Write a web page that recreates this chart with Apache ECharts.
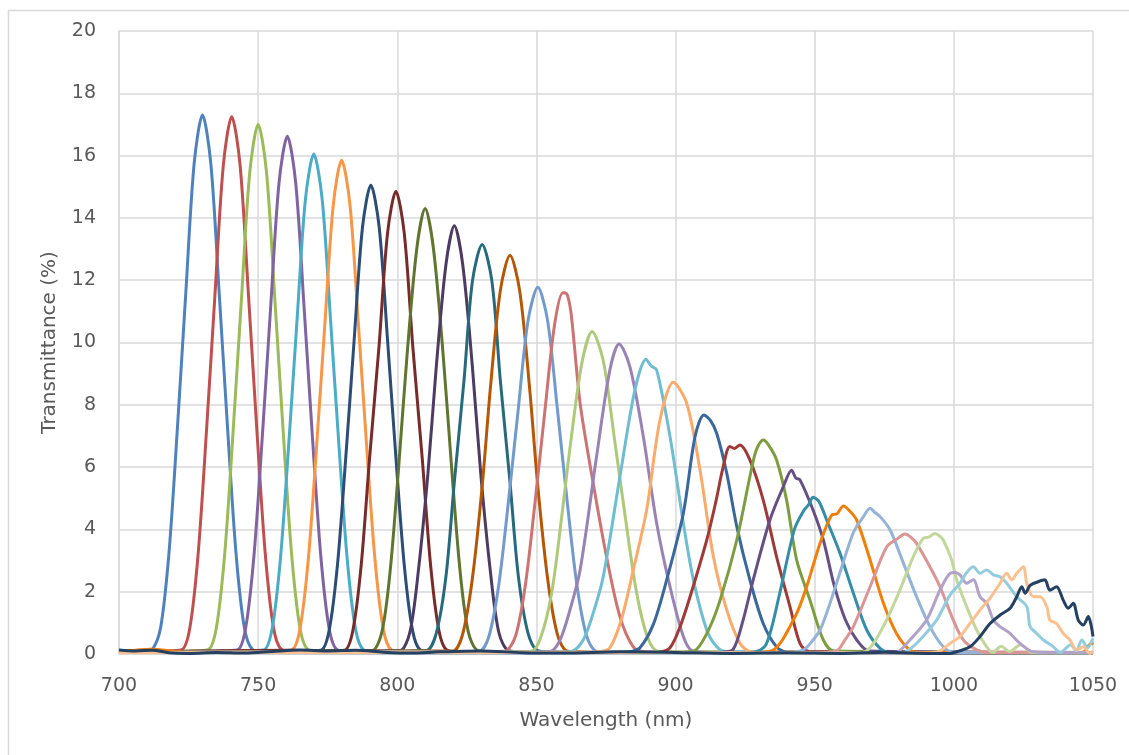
<!DOCTYPE html>
<html><head><meta charset="utf-8">
<script src="https://cdn.jsdelivr.net/npm/echarts@6/dist/echarts.min.js"></script>
<style>html,body{margin:0;padding:0;background:#fff}#c{width:1129px;height:755px}</style>
</head><body><div id="c"></div>
<script>
const xTitle = 'Wavelength (nm)';
const yTitle = 'Transmittance (%)';
const xRange = [700, 1050, 50];
const yRange = [0, 20, 2];

const colors = ['#4F81BD','#C0504D','#9BBB59','#8064A2','#4BACC6','#F79646',
  '#2C4D75','#772C2A','#5F7530','#4D3B62','#276A7C','#B65708',
  '#729ACA','#CD7371','#AFC97A','#9983B5','#6FBDD1','#F9AB6B',
  '#3A679C','#9E3B38','#7E9D40','#664F83','#358EA6','#F07F09',
  '#95B3D7','#D99694','#C3D69B','#B3A2C7','#93CDDD','#FAC090','#244062'];

const t730 = [[700,0.12],[705,0.08],[710,0.1],[712,0.14],[715,0.87],[718,3.29],[721,7.27],[724,11.59],[727,15.74],[730,17.3],[733,15.74],[736,11.59],[739,7.27],[742,3.29],[745,0.87],[748,0.14],[752,0.08],[780,0.05],[850,0.04],[950,0.05],[1050,0.04]];
const t740 = [[700,0.06],[715,0.1],[722.5,0.14],[725.5,0.86],[728.5,3.28],[731.5,7.25],[734.5,11.56],[737.5,15.7],[740.5,17.25],[743.5,15.7],[746.5,11.56],[749.5,7.25],[752.5,3.28],[755.5,0.86],[758.5,0.14],[765,0.06],[850,0.05],[1050,0.04]];
const t750 = [[700,0.05],[725,0.1],[732,0.14],[735,0.85],[738,3.23],[741,7.14],[744,11.39],[747,15.47],[750,17.0],[753,15.47],[756,11.39],[759,7.14],[762,3.23],[765,0.85],[768,0.14],[775,0.06],[1050,0.04]];
const t760 = [[700,0.05],[735,0.1],[742.5,0.13],[745.5,0.83],[748.5,3.16],[751.5,6.98],[754.5,11.14],[757.5,15.12],[760.5,16.62],[763.5,15.12],[766.5,11.14],[769.5,6.98],[772.5,3.16],[775.5,0.83],[778.5,0.13],[785,0.06],[1050,0.04]];
const t770 = [[700,0.05],[744,0.1],[752,0.13],[755,0.8],[758,3.05],[761,6.74],[764,10.75],[767,14.6],[770,16.05],[773,14.6],[776,10.75],[779,6.74],[782,3.05],[785,0.8],[788,0.13],[795,0.06],[1050,0.04]];
const t780 = [[700,0.06],[712,0.15],[720,0.05],[755,0.1],[762,0.13],[765,0.79],[768,3.01],[771,6.66],[774,10.62],[777,14.42],[780,15.85],[783,14.42],[786,10.62],[789,6.66],[792,3.01],[795,0.79],[798,0.13],[805,0.06],[1050,0.04]];
const t790 = [[700,0.05],[765,0.1],[772.5,0.12],[775.5,0.75],[778.5,2.86],[781.5,6.32],[784.5,10.08],[787.5,13.7],[790.5,15.05],[793.5,13.7],[796.5,10.08],[799.5,6.32],[802.5,2.86],[805.5,0.75],[808.5,0.12],[815,0.06],[1050,0.04]];
const t800 = [[700,0.05],[760,0.12],[775,0.1],[781,0.12],[784,0.74],[787,2.82],[790,6.24],[793.5,9.95],[796.5,13.51],[799.5,14.85],[802.5,13.51],[805.5,9.95],[809,6.24],[812,2.82],[815,0.74],[818,0.12],[825,0.06],[1050,0.04]];
const t810 = [[700,0.05],[785,0.1],[791,0.11],[794.5,0.72],[797.5,2.72],[800.5,6.01],[803.5,9.58],[807,13.01],[810,14.3],[813,13.01],[816.5,9.58],[819.5,6.01],[822.5,2.72],[825.5,0.72],[829,0.11],[836,0.06],[1050,0.04]];
const t820 = [[700,0.05],[795,0.1],[801,0.11],[804.5,0.69],[807.5,2.61],[811,5.78],[814,9.21],[817.5,12.51],[820.5,13.75],[823.5,12.51],[827,9.21],[830,5.78],[833.5,2.61],[836.5,0.69],[840,0.11],[847,0.06],[1050,0.04]];
const t830 = [[700,0.05],[804,0.1],[810.5,0.11],[814,0.66],[817.5,2.5],[820.5,5.52],[824,8.81],[827,11.97],[830.5,13.15],[834,11.97],[837,8.81],[840.5,5.52],[843.5,2.5],[847,0.66],[850.5,0.11],[858,0.06],[1050,0.04]];
const t840 = [[700,0.05],[813,0.1],[820,0.1],[823.5,0.64],[827,2.43],[830.5,5.38],[833.5,8.58],[837,11.65],[840.5,12.8],[844,11.65],[847.5,8.58],[850.5,5.38],[854,2.43],[857.5,0.64],[861,0.1],[868,0.06],[1050,0.04]];
const t850 = [[700,0.05],[822,0.08],[829.5,0.09],[833,0.59],[836.5,2.24],[840,4.94],[843.5,7.89],[847,10.71],[850.5,11.77],[854,10.71],[857.5,7.89],[861,4.94],[864.5,2.24],[868,0.59],[871.5,0.09],[878,0.05],[1050,0.04]];
const t860 = [[700,0.05],[830,0.08],[838.5,0.09],[842.5,0.58],[846,2.2],[849.5,4.87],[853,7.77],[856.5,10.56],[859.5,11.6],[861,11.55],[862.5,10.9],[865.7,8.05],[870.4,5.48],[875.2,3.12],[880,1.2],[884.8,0.23],[889,0.07],[1050,0.04]];
const t870 = [[700,0.05],[840,0.07],[848,0.08],[851.5,0.52],[855.5,1.97],[859,4.35],[862.5,6.93],[866.5,9.42],[870,10.35],[874,9.42],[878,6.93],[882,4.35],[886,1.97],[890,0.52],[894,0.08],[1050,0.04]];
const t880 = [[700,0.05],[850,0.06],[855,0.08],[858.5,0.45],[862,1.4],[865.7,2.7],[871.6,6.33],[876.4,9.12],[879.7,9.95],[883.6,9.22],[888.4,6.98],[893.2,4.2],[898,2.16],[902.8,0.56],[906,0.1],[912,0.05],[1050,0.04]];
const t890 = [[700,0.05],[858,0.06],[863,0.1],[866.8,0.45],[870,1.2],[874,2.48],[880,5.69],[885.4,8.48],[889.4,9.46],[891.2,9.25],[893.2,9.12],[898,6.98],[902.8,4.2],[906.4,2.38],[911.2,0.77],[914.8,0.23],[918,0.08],[1050,0.04]];
const t900 = [[700,0.05],[868,0.06],[873,0.08],[876.4,0.2],[880.5,1.1],[884.8,2.7],[889.6,4.62],[894.4,7.51],[899.2,8.72],[904,8.05],[908.8,5.9],[913.6,3.12],[918.4,1.41],[923.2,0.34],[927,0.08],[1050,0.05]];
const t910 = [[700,0.05],[880,0.05],[884,0.08],[887.2,0.2],[892,0.95],[896.8,2.38],[902.8,4.52],[907,6.98],[910.2,7.67],[912.5,7.5],[914.8,7.08],[918.4,5.8],[922,4.09],[926.7,2.38],[931.5,0.98],[936.3,0.23],[940,0.06],[1050,0.05]];
const t920 = [[700,0.05],[890,0.05],[894,0.06],[898,0.2],[901.5,0.85],[905.2,1.84],[911.2,3.66],[914.5,4.9],[917.1,6.01],[919.5,6.66],[921.2,6.6],[923.1,6.71],[926.7,6.23],[931.5,4.94],[936.3,3.12],[941.1,1.52],[944.7,0.34],[948,0.08],[1050,0.05]];
const t930 = [[700,0.05],[900,0.05],[904,0.06],[907.6,0.15],[912,0.8],[916,1.73],[922,3.66],[926.7,5.69],[929,6.55],[931.5,6.87],[933.5,6.7],[936.3,6.23],[939.9,4.94],[943.5,3.02],[948.3,1.73],[953.1,0.45],[957,0.1],[1050,0.05]];
const t940 = [[700,0.05],[912,0.05],[917,0.06],[920.7,0.15],[924,1.0],[927.9,2.38],[933.9,4.3],[938.7,5.37],[941.7,5.9],[943.2,5.65],[944.7,5.59],[949.5,4.6],[953.1,3.66],[957,2.2],[961,1.1],[965.1,0.45],[969.5,0.1],[1050,0.05]];
const t950 = [[700,0.05],[922,0.05],[928,0.06],[932.5,0.3],[937.3,1.9],[942.7,4.0],[946,4.6],[947.9,4.8],[949.4,5.03],[951.5,4.9],[954.3,4.3],[959.1,3.23],[963.9,1.95],[968.7,0.77],[973.5,0.18],[977,0.05],[1050,0.05]];
const t960 = [[700,0.05],[712,0.15],[725,0.05],[925,0.05],[932,0.06],[935.1,0.13],[938,0.4],[941.1,0.88],[944,1.4],[947.1,2.16],[951.9,3.55],[956.1,4.46],[958,4.5],[960.3,4.75],[962.5,4.6],[965.1,4.3],[969.9,3.02],[974.7,1.63],[979.4,0.66],[984.2,0.13],[988,0.05],[1046,0.05],[1049.5,0.35],[1050,0.3]];
const t970 = [[700,0.05],[940,0.04],[945.9,0.13],[948.5,0.35],[951.9,0.77],[955,1.5],[959,2.59],[963.9,3.9],[967.5,4.41],[969.9,4.68],[971.5,4.55],[973.5,4.41],[977.1,3.98],[981.9,2.91],[986.6,1.84],[991.4,0.88],[996.2,0.23],[1000,0.05],[1050,0.05]];
const t980 = [[700,0.05],[950,0.04],[957.9,0.1],[960.5,0.4],[963.9,0.88],[969.9,2.16],[975.9,3.44],[980,3.72],[982.4,3.85],[984.5,3.75],[986.6,3.55],[991.4,2.8],[995,2.16],[999.8,1.09],[1003.4,0.45],[1008.2,0.13],[1012,0.05],[1050,0.05]];
const t990 = [[700,0.05],[955,0.04],[964,0.03],[967.5,0.05],[971.1,0.34],[975.8,1.09],[980.6,2.05],[985.4,3.12],[989,3.71],[991,3.75],[993.2,3.87],[994.7,3.8],[996.2,3.66],[999.2,3.02],[1001,2.38],[1004.6,1.52],[1008.2,0.77],[1011.8,0.23],[1014,0.05],[1017,0.25],[1020,0.08],[1024,0.3],[1028,0.05],[1050,0.04]];
const t1000 = [[700,0.05],[970,0.04],[976,0.03],[979.4,0.05],[984.2,0.45],[990.2,1.09],[995,2.05],[998.6,2.59],[1000.5,2.62],[1002.2,2.54],[1004.6,2.27],[1007,2.38],[1009.4,1.84],[1011.8,1.63],[1014.2,1.09],[1016.6,0.88],[1020.2,0.66],[1023.8,0.34],[1028.6,0.07],[1035,0.05],[1050,0.04]];
const t1010 = [[700,0.05],[975,0.04],[981.9,0.05],[984.8,0.2],[987.8,0.45],[993.8,1.09],[998.6,1.89],[1002.2,2.27],[1004.5,2.6],[1007,2.8],[1009.4,2.59],[1011.8,2.7],[1014.2,2.54],[1016.6,2.48],[1019,2.27],[1022.6,1.84],[1026.2,1.52],[1027.4,0.88],[1029.8,0.66],[1032.2,0.45],[1035.8,0.23],[1038.2,0.05],[1042,0.3],[1044,0.1],[1046,0.45],[1048,0.2],[1050,0.5]];
const t1020 = [[700,0.05],[985,0.04],[990,0.03],[995,0.1],[998.6,0.34],[1002.2,0.56],[1005.8,0.98],[1009.4,1.41],[1013,1.79],[1016.6,2.27],[1019,2.59],[1020.8,2.38],[1022.6,2.59],[1025,2.8],[1026.2,2.27],[1028.6,1.84],[1031,1.84],[1033.4,1.52],[1034.5,1.09],[1036.9,0.98],[1039.3,0.66],[1041.7,0.45],[1044.1,0.13],[1046.5,0.23],[1048.9,0.02],[1050,0.1]];
const t1030 = [[700,0.13],[706,0.1],[712,0.12],[718,0.04],[725,0.02],[735,0.05],[745,0.03],[755,0.08],[765,0.13],[775,0.1],[785,0.12],[795,0.06],[805,0.03],[815,0.07],[830,0.1],[845,0.04],[860,0.03],[880,0.07],[900,0.05],[920,0.02],[940,0.04],[960,0.02],[975,0.06],[990,0.02],[998.6,0.02],[1002,0.1],[1005.8,0.23],[1009.4,0.56],[1013,0.98],[1016.6,1.25],[1020.2,1.47],[1022.6,1.84],[1024.4,2.16],[1025.6,1.95],[1027.4,2.2],[1030.3,2.32],[1032.7,2.38],[1034.5,2.05],[1036.9,2.16],[1039.3,1.73],[1041.1,1.47],[1042.9,1.63],[1044.7,1.09],[1046.5,0.93],[1048.3,1.2],[1050,0.56]];

const seriesList = [t730,t740,t750,t760,t770,t780,t790,t800,t810,t820,t830,t840,t850,t860,t870,t880,t890,t900,t910,t920,t930,t940,t950,t960,t970,t980,t990,t1000,t1010,t1020,t1030];

const chart = echarts.init(document.getElementById('c'), null, {renderer:'canvas'});
const FONT = '"DejaVu Sans", sans-serif';
const gridColor = '#d9d9d9';
const textColor = '#595959';
chart.setOption({
  animation: false,
  backgroundColor: '#ffffff',
  color: colors,
  graphic: [{type:'rect', silent:true, shape:{x:8.5, y:10.5, width:1140, height:760}, style:{fill:null, stroke:gridColor, lineWidth:1.5}}],
  grid: {left:119, right:36, top:31, bottom:101, containLabel:false},
  xAxis: {
    type:'value', min:xRange[0], max:xRange[1], interval:xRange[2],
    axisLine:{show:true, lineStyle:{color:gridColor, width:1.5}},
    axisTick:{show:false},
    splitLine:{show:true, lineStyle:{color:gridColor, width:1.5}},
    axisLabel:{color:textColor, fontSize:19, fontFamily:FONT, margin:23, formatter:(v)=>String(v)},
    name:xTitle, nameLocation:'middle', nameGap:57,
    nameTextStyle:{color:textColor, fontSize:20, fontFamily:FONT, verticalAlign:'top'}
  },
  yAxis: {
    type:'value', min:yRange[0], max:yRange[1], interval:yRange[2],
    axisLine:{show:true, lineStyle:{color:gridColor, width:1.5}},
    axisTick:{show:false},
    splitLine:{show:true, lineStyle:{color:gridColor, width:1.5}},
    axisLabel:{color:textColor, fontSize:19, fontFamily:FONT, margin:23, formatter:(v)=>String(v)},
    name:yTitle, nameLocation:'middle', nameGap:59, nameRotate:90,
    nameTextStyle:{color:textColor, fontSize:20, fontFamily:FONT}
  },
  series: seriesList.map((d,i)=>({
    type:'line', data:d, showSymbol:false, smooth:0.3, clip:true,
    lineStyle:{width:3, color:colors[i]}, emphasis:{disabled:true}
  }))
});
</script></body></html>
